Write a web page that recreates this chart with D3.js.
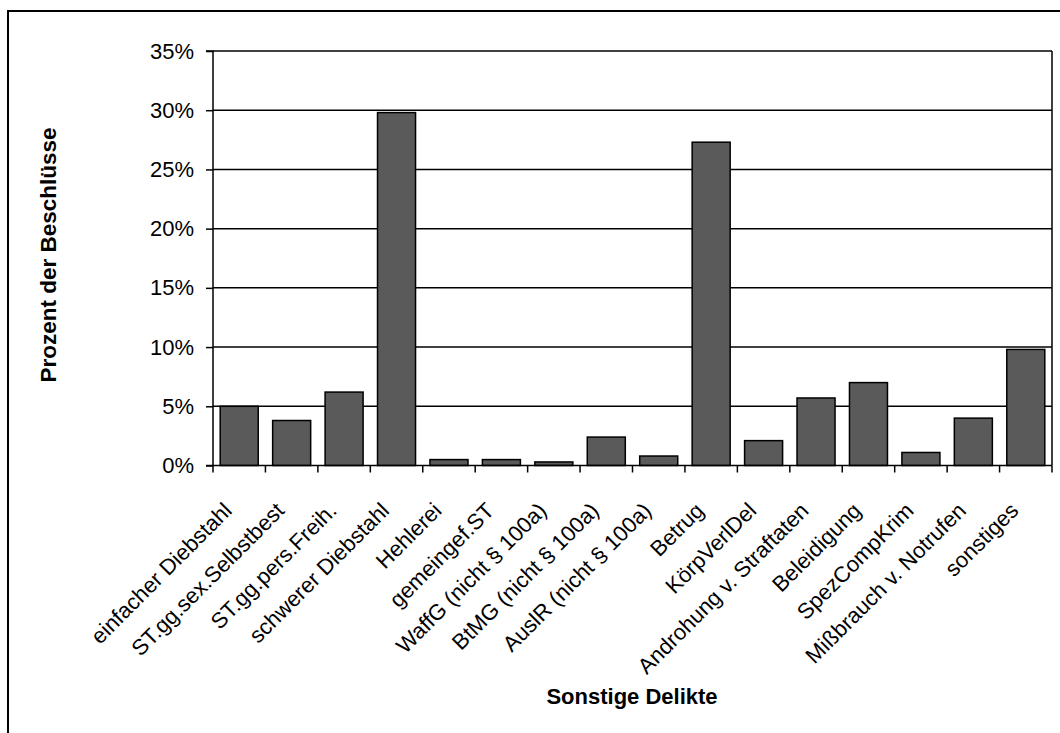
<!DOCTYPE html>
<html><head><meta charset="utf-8">
<script src="https://cdn.jsdelivr.net/npm/d3@7"></script>
<style>
body{margin:0;background:#fff;}
text{font-family:"Liberation Sans",Arial,sans-serif;fill:#000;}
</style></head>
<body>
<svg id="c" width="1060" height="733"></svg>
<script>
const categories = ["einfacher Diebstahl","ST.gg.sex.Selbstbest","ST.gg.pers.Freih.","schwerer Diebstahl","Hehlerei","gemeingef.ST","WaffG (nicht § 100a)","BtMG (nicht § 100a)","AuslR (nicht § 100a)","Betrug","KörpVerlDel","Androhung v. Straftaten","Beleidigung","SpezCompKrim","Mißbrauch v. Notrufen","sonstiges"];
const values = [5.0,3.8,6.2,29.8,0.5,0.5,0.3,2.4,0.8,27.3,2.1,5.7,7.0,1.1,4.0,9.8];
const yTicks = [0,5,10,15,20,25,30,35];
const yTitle = "Prozent der Beschlüsse";
const xTitle = "Sonstige Delikte";

const svg = d3.select("#c");
const L=213, R=1052, T=51, B=465.5;

svg.append("rect").attr("x",8).attr("y",11).attr("width",1200).attr("height",900)
  .attr("fill","none").attr("stroke","#000").attr("stroke-width",2);

const x = d3.scaleBand().domain(categories).range([L,R]).paddingInner(0.275).paddingOuter(0.1375);
const y = d3.scaleLinear().domain([0,35]).range([B,T]);

// gridlines
svg.append("g").selectAll("line").data(yTicks.filter(d=>d>0)).join("line")
  .attr("x1",L).attr("x2",R).attr("y1",d=>y(d)).attr("y2",d=>y(d))
  .attr("stroke","#000").attr("stroke-width",1.5);
// right border
svg.append("line").attr("x1",R).attr("x2",R).attr("y1",T).attr("y2",B).attr("stroke","#000").attr("stroke-width",1.5);

// bars
svg.append("g").selectAll("rect").data(values).join("rect")
  .attr("x",(d,i)=>x(categories[i])).attr("width",x.bandwidth())
  .attr("y",d=>y(d)).attr("height",d=>B-y(d))
  .attr("fill","#5a5a5a").attr("stroke","#000").attr("stroke-width",1.5);

// y axis
const ya = svg.append("g").attr("transform",`translate(${L},0)`)
  .call(d3.axisLeft(y).tickValues(yTicks).tickFormat(d=>d+"%").tickSize(7).tickPadding(12));
ya.selectAll("path,line").attr("stroke","#000").attr("stroke-width",1.5);
ya.select(".domain").attr("d",`M-7,${T}H0V${B}H-7`);
ya.selectAll("text").attr("font-size",22).attr("font-family","Liberation Sans, Arial, sans-serif").attr("fill","#000");

// x axis line and ticks at band boundaries
const bounds = d3.range(categories.length+1).map(i=>L+i*(R-L)/categories.length);
svg.append("line").attr("x1",L).attr("x2",R).attr("y1",B).attr("y2",B).attr("stroke","#000").attr("stroke-width",1.5);
svg.append("g").selectAll("line").data(bounds).join("line")
  .attr("x1",d=>d).attr("x2",d=>d).attr("y1",B).attr("y2",B+7).attr("stroke","#000").attr("stroke-width",1.5);

// x labels
svg.append("g").selectAll("text").data(categories).join("text")
  .attr("transform",d=>`translate(${x(d)+x.bandwidth()/2-6},512) rotate(-45)`)
  .attr("text-anchor","end").attr("font-size",22).text(d=>d);

// titles
svg.append("text").attr("transform",`translate(56,255) rotate(-90)`)
  .attr("text-anchor","middle").attr("font-size",22.5).attr("font-weight","bold").text(yTitle);
svg.append("text").attr("x",632).attr("y",704).attr("text-anchor","middle")
  .attr("font-size",22).attr("font-weight","bold").text(xTitle);
</script>
</body></html>
